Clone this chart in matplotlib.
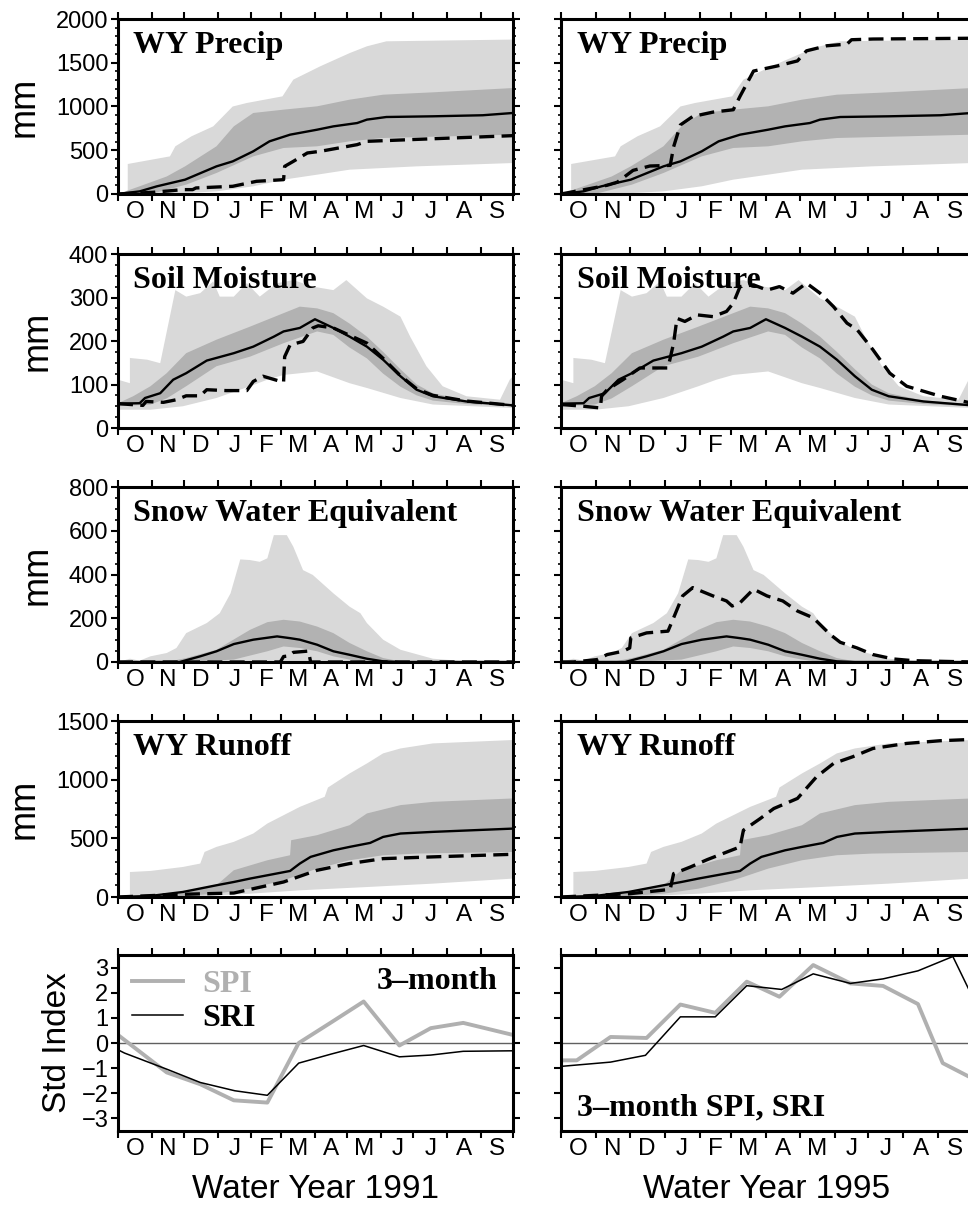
import numpy as np
import matplotlib
matplotlib.use("Agg")
import matplotlib.pyplot as plt
from matplotlib.ticker import MultipleLocator

plt.rcParams['font.family'] = ['Liberation Sans', 'DejaVu Sans']

# water year days (0 = Oct 1)
month_edges = [0, 31, 61, 92, 123, 151, 182, 212, 243, 273, 304, 335, 365]
month_labels = ['O', 'N', 'D', 'J', 'F', 'M', 'A', 'M', 'J', 'J', 'A', 'S']

# ---- WY precip (mm) ----
pr_lhi_x = [0, 9, 9, 48, 53, 68, 88, 106, 119, 152, 162, 187, 214, 230, 248, 365]
pr_lhi_y = [0, 0, 343, 430, 545, 660, 773, 1000, 1040, 1116, 1307, 1460, 1610, 1688, 1745, 1765]
pr_llo_x = [0, 46, 91, 125, 153, 184, 214, 276, 365]
pr_llo_y = [0, 0, 30, 88, 164, 221, 278, 316, 354]
pr_dhi_x = [0, 20, 45, 62, 91, 107, 125, 153, 184, 214, 245, 291, 365]
pr_dhi_y = [0, 88, 200, 316, 545, 773, 926, 964, 1002, 1078, 1135, 1162, 1211]
pr_dlo_x = [0, 30, 63, 91, 125, 153, 184, 214, 245, 365]
pr_dlo_y = [0, 0, 107, 240, 430, 526, 545, 602, 640, 678]
pr_med_x = [0, 20, 36, 62, 91, 106, 125, 140, 159, 184, 199, 221, 230, 248, 291, 337, 365]
pr_med_y = [0, 30, 88, 164, 316, 373, 488, 602, 678, 735, 773, 811, 850, 880, 888, 900, 926]
pr91_x = [0, 32, 60, 69, 72, 106, 128, 153, 154, 162, 175, 187, 221, 230, 365]
pr91_y = [0, 19, 50, 50, 69, 88, 145, 164, 316, 373, 469, 488, 564, 602, 667]
pr95_x = [0, 32, 41, 50, 64, 79, 97, 100, 106, 117, 135, 153, 159, 171, 192, 210, 218, 236, 254, 258, 277, 365]
pr95_y = [0, 77, 100, 135, 270, 320, 327, 539, 789, 886, 936, 963, 1117, 1405, 1463, 1521, 1636, 1694, 1713, 1763, 1771, 1780]

# ---- soil moisture (mm) ----
sm_lhi_x = [0, 11, 11, 27, 39, 53, 63, 76, 88, 94, 107, 119, 131, 147, 162, 180, 199, 211, 230, 245, 261, 270, 285, 300, 322, 353, 362, 365]
sm_lhi_y = [111, 103, 161, 157, 149, 317, 302, 310, 337, 302, 302, 333, 302, 333, 340, 325, 317, 340, 298, 279, 256, 210, 142, 96, 73, 65, 111, 119]
sm_llo_x = [0, 30, 60, 91, 122, 138, 153, 184, 214, 230, 261, 291, 365]
sm_llo_y = [42, 42, 50, 69, 96, 111, 122, 130, 103, 92, 69, 54, 46]
sm_dhi_x = [0, 14, 30, 45, 63, 91, 122, 153, 168, 184, 199, 214, 230, 245, 261, 276, 291, 322, 365]
sm_dhi_y = [57, 73, 96, 126, 172, 203, 233, 264, 279, 275, 264, 240, 210, 175, 135, 100, 80, 63, 55]
sm_dlo_x = [0, 30, 45, 63, 91, 122, 153, 184, 199, 214, 230, 245, 261, 276, 291, 322, 365]
sm_dlo_y = [50, 54, 68, 96, 142, 164, 195, 222, 214, 185, 160, 125, 95, 75, 63, 55, 50]
sm_med_x = [0, 20, 25, 39, 51, 63, 82, 107, 125, 144, 153, 168, 182, 199, 214, 230, 245, 261, 276, 291, 322, 365]
sm_med_y = [56, 57, 69, 80, 111, 126, 155, 172, 187, 210, 222, 230, 250, 230, 210, 187, 157, 119, 88, 73, 61, 52]
sm91_x = [0, 23, 26, 42, 54, 63, 76, 82, 100, 119, 125, 134, 153, 154, 159, 171, 180, 185, 199, 230, 245, 261, 276, 291, 322, 365]
sm91_y = [56, 52, 61, 59, 65, 74, 74, 88, 86, 86, 107, 119, 105, 164, 191, 199, 230, 235, 230, 195, 160, 120, 90, 75, 62, 52]
sm95_x = [0, 20, 35, 36, 41, 55, 70, 82, 95, 100, 103, 110, 121, 135, 147, 153, 159, 171, 183, 194, 206, 218, 230, 242, 254, 263, 277, 292, 307, 337, 365]
sm95_y = [54, 50, 46, 73, 88, 111, 138, 138, 138, 195, 252, 245, 260, 256, 268, 287, 325, 329, 317, 325, 310, 333, 310, 279, 241, 226, 180, 126, 96, 73, 57]

# ---- snow water equivalent (mm) ----
sw_lhi_x = [0, 11, 20, 30, 45, 54, 63, 82, 94, 104, 113, 122, 131, 138, 144, 156, 162, 171, 180, 199, 214, 224, 230, 245, 261, 291, 322, 365]
sw_lhi_y = [0, 15, 6, 26, 41, 64, 132, 178, 223, 314, 469, 466, 458, 474, 580, 580, 527, 420, 398, 314, 253, 223, 178, 102, 56, 15, 3, 0]
sw_llo_x = [0, 365]
sw_llo_y = [0, 0]
sw_dhi_x = [0, 45, 63, 91, 122, 138, 153, 168, 184, 199, 214, 230, 245, 261, 365]
sw_dhi_y = [0, 0, 18, 56, 147, 182, 193, 185, 162, 132, 87, 49, 18, 3, 0]
sw_dlo_x = [0, 60, 107, 138, 153, 168, 184, 199, 214, 230, 365]
sw_dlo_y = [0, 0, 11, 49, 71, 64, 49, 26, 11, 0, 0]
sw_med_x = [0, 57, 76, 91, 107, 125, 147, 159, 168, 184, 199, 214, 230, 245, 261, 365]
sw_med_y = [0, 0, 26, 49, 82, 102, 117, 109, 102, 79, 49, 33, 15, 3, 0, 0]
sw91_x = [0, 150, 153, 158, 162, 176, 178, 365]
sw91_y = [0, 0, 25, 28, 44, 50, 0, 0]
sw95_x = [0, 11, 32, 41, 55, 61, 62, 76, 95, 100, 108, 117, 135, 147, 152, 159, 171, 183, 197, 210, 224, 239, 248, 263, 277, 295, 313, 365]
sw95_y = [0, 0, 11, 34, 49, 64, 110, 133, 141, 202, 302, 340, 302, 279, 256, 271, 333, 302, 279, 233, 202, 126, 90, 64, 34, 14, 6, 0]

# ---- WY runoff (mm) ----
ro_lhi_x = [0, 11, 11, 30, 60, 76, 80, 91, 107, 125, 138, 153, 168, 191, 194, 214, 230, 245, 261, 291, 365]
ro_lhi_y = [0, 0, 213, 222, 256, 285, 384, 427, 470, 541, 626, 697, 768, 854, 933, 1053, 1138, 1224, 1266, 1309, 1338]
ro_llo_x = [0, 60, 122, 168, 230, 291, 365]
ro_llo_y = [0, 0, 28, 57, 85, 114, 157]
ro_dhi_x = [0, 30, 60, 91, 107, 138, 159, 160, 184, 214, 230, 261, 291, 365]
ro_dhi_y = [0, 0, 34, 100, 228, 313, 356, 484, 527, 612, 712, 783, 811, 840]
ro_dlo_x = [0, 46, 91, 122, 153, 184, 214, 245, 276, 365]
ro_dlo_y = [0, 0, 28, 71, 142, 242, 313, 356, 370, 384]
ro_med_x = [0, 30, 60, 91, 107, 122, 138, 159, 168, 178, 199, 214, 233, 245, 261, 291, 365]
ro_med_y = [0, 9, 43, 100, 128, 157, 185, 222, 285, 342, 398, 427, 461, 512, 541, 555, 583]
ro91_x = [0, 60, 107, 153, 184, 214, 245, 291, 365]
ro91_y = [0, 23, 34, 128, 228, 285, 327, 342, 364]
ro95_x = [0, 61, 97, 100, 115, 130, 159, 162, 177, 189, 210, 227, 242, 259, 277, 307, 337, 365]
ro95_y = [0, 28, 65, 199, 256, 319, 427, 569, 669, 754, 840, 1025, 1138, 1195, 1266, 1309, 1332, 1343]

# ---- 3-month SPI / SRI ----
spi91_x = [0, 45, 76, 107, 138, 167, 197, 227, 260, 289, 319, 365]
spi91_y = [0.32, -1.17, -1.64, -2.28, -2.37, 0.0, 0.82, 1.65, -0.1, 0.59, 0.8, 0.32]
sri91_x = [0, 6, 45, 76, 108, 138, 167, 197, 227, 260, 289, 319, 365]
sri91_y = [-0.27, -0.4, -1.04, -1.57, -1.9, -2.08, -0.8, -0.44, -0.1, -0.55, -0.48, -0.33, -0.31]
spi95_x = [0, 14, 44, 76, 106, 137, 165, 194, 224, 257, 286, 317, 339, 365]
spi95_y = [-0.69, -0.69, 0.24, 0.2, 1.53, 1.2, 2.44, 1.84, 3.1, 2.37, 2.27, 1.55, -0.8, -1.4]
sri95_x = [0, 44, 75, 106, 137, 165, 196, 224, 257, 286, 317, 348, 365]
sri95_y = [-0.93, -0.76, -0.49, 1.04, 1.04, 2.28, 2.13, 2.75, 2.37, 2.55, 2.87, 3.44, 1.87]

LIGHT = '#d9d9d9'
DARK = '#b2b2b2'
SERIF = 'Liberation Serif'

fig = plt.figure(figsize=(9.68, 12.05), dpi=100)
W, H = 968.0, 1205.0
rows = [(19, 194), (254, 428), (487, 662), (721, 897), (955, 1131)]
cols = [(118, 395), (561, 411)]


def make_ax(r, c):
    top, bot = rows[r]
    x0, w = cols[c]
    return fig.add_axes([x0 / W, 1 - bot / H, w / W, (bot - top) / H])


def style(ax, ylim, major, minor, show_y):
    ax.set_xlim(0, 365)
    ax.set_ylim(*ylim)
    ax.set_xticks(month_edges)
    ax.set_xticklabels([])
    mids = [(a + b) / 2 for a, b in zip(month_edges[:-1], month_edges[1:])]
    ax.set_xticks(mids, minor=True)
    ax.set_xticklabels(month_labels, minor=True, fontsize=17.5)
    ax.tick_params(axis='x', which='major', direction='out', length=5, width=1.5, top=True)
    ax.tick_params(axis='x', which='minor', length=0, pad=5, top=False)
    ax.yaxis.set_major_locator(MultipleLocator(major))
    if minor:
        ax.yaxis.set_minor_locator(MultipleLocator(minor))
    ax.tick_params(axis='y', which='major', direction='out', length=5, width=1.5,
                   right=True, labelsize=17, pad=2, labelleft=show_y)
    ax.tick_params(axis='y', which='minor', direction='out', length=2.5, width=1.2, right=True)
    for s in ax.spines.values():
        s.set_linewidth(2.2)


def band_panel(ax, d, year_x, year_y, title, ylim, major, minor, show_y):
    lhi_x, lhi_y, llo_x, llo_y, dhi_x, dhi_y, dlo_x, dlo_y, med_x, med_y = d
    ax.fill(np.r_[lhi_x, llo_x[::-1]], np.r_[lhi_y, llo_y[::-1]], color=LIGHT, lw=0)
    ax.fill(np.r_[dhi_x, dlo_x[::-1]], np.r_[dhi_y, dlo_y[::-1]], color=DARK, lw=0)
    ax.plot(med_x, med_y, color='black', lw=1.7)
    ax.plot(year_x, year_y, color='black', lw=2.4, dashes=(4.5, 2.2))
    ax.text(0.038, 0.93, title, transform=ax.transAxes, family=SERIF,
            fontweight='bold', fontsize=23, va='top', ha='left')
    style(ax, ylim, major, minor, show_y)
    if show_y:
        ax.set_ylabel('mm', fontsize=26, labelpad=10)


panels = [
    ('WY Precip', (pr_lhi_x, pr_lhi_y, pr_llo_x, pr_llo_y, pr_dhi_x, pr_dhi_y, pr_dlo_x, pr_dlo_y, pr_med_x, pr_med_y),
     (pr91_x, pr91_y), (pr95_x, pr95_y), (0, 2000), 500, 100),
    ('Soil Moisture', (sm_lhi_x, sm_lhi_y, sm_llo_x, sm_llo_y, sm_dhi_x, sm_dhi_y, sm_dlo_x, sm_dlo_y, sm_med_x, sm_med_y),
     (sm91_x, sm91_y), (sm95_x, sm95_y), (0, 400), 100, 25),
    ('Snow Water Equivalent', (sw_lhi_x, sw_lhi_y, sw_llo_x, sw_llo_y, sw_dhi_x, sw_dhi_y, sw_dlo_x, sw_dlo_y, sw_med_x, sw_med_y),
     (sw91_x, sw91_y), (sw95_x, sw95_y), (0, 800), 200, 50),
    ('WY Runoff', (ro_lhi_x, ro_lhi_y, ro_llo_x, ro_llo_y, ro_dhi_x, ro_dhi_y, ro_dlo_x, ro_dlo_y, ro_med_x, ro_med_y),
     (ro91_x, ro91_y), (ro95_x, ro95_y), (0, 1500), 500, 100),
]

for r, (title, d, y91, y95, ylim, major, minor) in enumerate(panels):
    axl = make_ax(r, 0)
    band_panel(axl, d, y91[0], y91[1], title, ylim, major, minor, True)
    axr = make_ax(r, 1)
    band_panel(axr, d, y95[0], y95[1], title, ylim, major, minor, False)

# std index panels
SPI_C = '#b0b0b0'
axl = make_ax(4, 0)
axl.axhline(0, color='#606060', lw=1)
axl.plot(spi91_x, spi91_y, color=SPI_C, lw=2.8, label='SPI')
axl.plot(sri91_x, sri91_y, color='black', lw=1.1, label='SRI')
style(axl, (-3.5, 3.5), 1, None, True)
axl.set_ylabel('Std Index', fontsize=24, labelpad=6)
axl.set_xlabel('Water Year 1991', fontsize=24, labelpad=10)
leg = axl.legend(loc='upper left', frameon=False, handlelength=1.6, handletextpad=0.6,
                 borderaxespad=0.15, borderpad=0.3, labelspacing=0.15,
                 prop={'family': SERIF, 'weight': 'bold', 'size': 23})
for txt, col in zip(leg.get_texts(), [SPI_C, 'black']):
    txt.set_color(col)
axl.text(0.96, 0.93, '3\u2013month', transform=axl.transAxes, family=SERIF,
         fontweight='bold', fontsize=23, ha='right', va='top')

axr = make_ax(4, 1)
axr.axhline(0, color='#606060', lw=1)
axr.plot(spi95_x, spi95_y, color=SPI_C, lw=2.8)
axr.plot(sri95_x, sri95_y, color='black', lw=1.1)
style(axr, (-3.5, 3.5), 1, None, False)
axr.set_xlabel('Water Year 1995', fontsize=24, labelpad=10)
axr.text(0.038, 0.05, '3\u2013month SPI, SRI', transform=axr.transAxes, family=SERIF,
         fontweight='bold', fontsize=23, ha='left', va='bottom')

fig.savefig('out.png', dpi=100)
